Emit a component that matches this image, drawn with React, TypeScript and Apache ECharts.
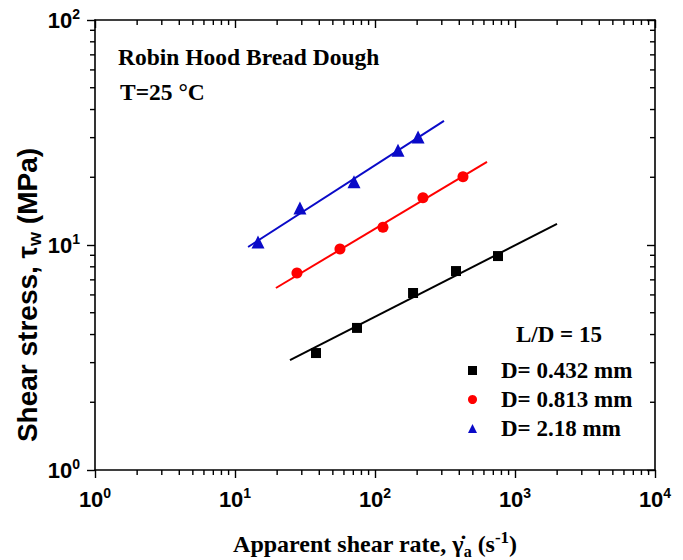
import React, { useEffect, useRef } from 'react';
import * as echarts from 'echarts';

// Measured data (apparent shear rate, s^-1 ; shear stress, MPa)
const blackX = [37.9, 74.4, 187, 379, 756];
const blackY = [3.31, 4.28, 6.12, 7.66, 8.93];
const redX = [27.7, 56.2, 114, 220, 425];
const redY = [7.51, 9.6, 12.0, 16.2, 20.1];
const blueX = [14.6, 29.1, 70.8, 146, 203];
const blueY = [10.3, 14.6, 19.1, 26.4, 30.2];

// Power-law fit lines (end points)
const blackFitX = [24.7, 1995];
const blackFitY = [3.08, 12.4];
const redFitX = [19.6, 631];
const redFitY = [6.44, 23.4];
const blueFitX = [12.4, 311];
const blueFitY = [9.8, 35.6];

const seriesNames = ['D= 0.432 mm', 'D= 0.813 mm', 'D= 2.18 mm'];
const seriesColors = ['#000000', '#ff0000', '#0a0ac8'];
const seriesSymbols = ['rect', 'circle', 'triangle'];

const xMin = 1;
const xMax = 10000;
const yMin = 1;
const yMax = 100;
const minorMultipliers = [2, 3, 4, 5, 6, 7, 8, 9];
const xDecades = [1, 10, 100, 1000];
const yDecades = [1, 10];

const titleLine1 = 'Robin Hood Bread Dough';
const titleLine2 = 'T=25 °C';
const legendHeader = 'L/D = 15';

const zip = (xs: number[], ys: number[]) => xs.map((x, i) => [x, ys[i]]);

const App: React.FC = () => {
  const ref = useRef<HTMLDivElement>(null);

  useEffect(() => {
    if (!ref.current) return;
    document.body.style.margin = '0';
    const chart = echarts.init(ref.current, undefined, { renderer: 'svg' });

    const xMinor: number[][] = [];
    xDecades.forEach((d) => minorMultipliers.forEach((m) => xMinor.push([m * d, yMin])));
    const yMinor: number[][] = [];
    yDecades.forEach((d) => minorMultipliers.forEach((m) => yMinor.push([xMin, m * d])));

    const sans = '"Liberation Sans", Arial, sans-serif';
    const serif = '"Liberation Serif", "Times New Roman", serif';
    const axisColor = '#000';

    const tickRich = {
      b: { fontSize: 22, fontWeight: 'bold', fontFamily: sans, color: '#000', lineHeight: 26 },
      s: { fontSize: 14, fontWeight: 'bold', fontFamily: sans, color: '#000', lineHeight: 14, verticalAlign: 'top' },
    };
    const tickFormatter = (v: number) => `{b|10}{s|${Math.round(Math.log10(v))}}`;

    const baseAxis = {
      type: 'log',
      logBase: 10,
      splitLine: { show: false },
      axisLine: { show: true, onZero: false, lineStyle: { color: axisColor, width: 1.6 } },
    };

    const tickLine = (x1: number, y1: number, x2: number, y2: number) => ({
      type: 'line',
      shape: { x1, y1, x2, y2 },
      style: { stroke: axisColor, lineWidth: 1.4 },
    });

    const scatterSeries = [
      { data: zip(blackX, blackY), size: 10 },
      { data: zip(redX, redY), size: 11 },
      { data: zip(blueX, blueY), size: 13 },
    ].map((s, i) => ({
      name: seriesNames[i],
      type: 'scatter',
      data: s.data,
      symbol: seriesSymbols[i],
      symbolSize: s.size,
      itemStyle: { color: seriesColors[i], opacity: 1 },
      z: 5,
    }));

    const fitSeries = [
      zip(blackFitX, blackFitY),
      zip(redFitX, redFitY),
      zip(blueFitX, blueFitY),
    ].map((d, i) => ({
      name: 'fit' + i,
      type: 'line',
      data: d,
      showSymbol: false,
      symbol: 'none',
      lineStyle: { color: seriesColors[i], width: 2 },
      z: 4,
    }));

    chart.setOption({
      animation: false,
      grid: { left: 95, right: 28, top: 20, bottom: 90, containLabel: false },
      xAxis: [
        {
          ...baseAxis,
          position: 'bottom',
          min: xMin,
          max: xMax,
          axisTick: { show: true, inside: false, length: 8, lineStyle: { color: axisColor, width: 1.4 } },
          axisLabel: { margin: 16, formatter: tickFormatter, rich: tickRich },
        },
        {
          ...baseAxis,
          position: 'top',
          min: xMin,
          max: xMax,
          axisTick: { show: true, inside: true, length: 8, lineStyle: { color: axisColor, width: 1.4 } },
          axisLabel: { show: false },
        },
      ],
      yAxis: [
        {
          ...baseAxis,
          position: 'left',
          min: yMin,
          max: yMax,
          axisTick: { show: true, inside: false, length: 8, lineStyle: { color: axisColor, width: 1.4 } },
          axisLabel: { margin: 15, formatter: tickFormatter, rich: tickRich },
        },
        {
          ...baseAxis,
          position: 'right',
          min: yMin,
          max: yMax,
          axisTick: { show: true, inside: true, length: 8, lineStyle: { color: axisColor, width: 1.4 } },
          axisLabel: { show: false },
        },
      ],
      legend: {
        data: seriesNames,
        orient: 'vertical',
        left: 463,
        top: 354,
        itemWidth: 9,
        itemHeight: 9,
        itemGap: 6,
        textStyle: {
          fontFamily: serif,
          fontWeight: 'bold',
          fontSize: 23,
          color: '#000',
          padding: [0, 0, 0, 19],
        },
      },
      graphic: [
        {
          type: 'text',
          x: 118,
          y: 57,
          style: { text: titleLine1, font: `bold 23.5px ${serif}`, fill: '#000', align: 'left', verticalAlign: 'middle' },
        },
        {
          type: 'text',
          x: 120,
          y: 92,
          style: { text: titleLine2, font: `bold 23.5px ${serif}`, fill: '#000', align: 'left', verticalAlign: 'middle' },
        },
        {
          type: 'text',
          x: 516,
          y: 334,
          style: { text: legendHeader, font: `bold 23px ${serif}`, fill: '#000', align: 'left', verticalAlign: 'middle' },
        },
        {
          type: 'text',
          x: 375,
          y: 544,
          style: {
            text: '{t|Apparent shear rate, \u03B3\u0307}{sub|a}{t| (s}{sup|-1}{t|)}',
            align: 'center',
            verticalAlign: 'middle',
            rich: {
              t: { fontFamily: serif, fontWeight: 'bold', fontSize: 24, lineHeight: 30, fill: '#000' },
              sub: { fontFamily: serif, fontWeight: 'bold', fontSize: 16, lineHeight: 15, verticalAlign: 'bottom', fill: '#000' },
              sup: { fontFamily: serif, fontWeight: 'bold', fontSize: 17, lineHeight: 16, verticalAlign: 'top', fill: '#000' },
            },
          },
        },
        {
          type: 'text',
          x: 27,
          y: 295,
          rotation: Math.PI / 2,
          style: {
            text: '{t|Shear stress, \u03C4}{sub|w}{t| (MPa)}',
            align: 'center',
            verticalAlign: 'middle',
            rich: {
              t: { fontFamily: sans, fontWeight: 'bold', fontSize: 28, lineHeight: 34, fill: '#000' },
              sub: { fontFamily: sans, fontWeight: 'bold', fontSize: 18, lineHeight: 17, verticalAlign: 'bottom', fill: '#000' },
            },
          },
        },
      ],
      series: [
        ...fitSeries,
        ...scatterSeries,
        {
          name: 'xMinorTicks',
          type: 'custom',
          clip: false,
          silent: true,
          data: xMinor,
          renderItem: (_p: any, api: any) => {
            const v = api.value(0);
            const pb = api.coord([v, yMin]);
            const pt = api.coord([v, yMax]);
            return {
              type: 'group',
              children: [tickLine(pb[0], pb[1], pb[0], pb[1] + 5), tickLine(pt[0], pt[1], pt[0], pt[1] + 5)],
            };
          },
        },
        {
          name: 'yMinorTicks',
          type: 'custom',
          clip: false,
          silent: true,
          data: yMinor,
          renderItem: (_p: any, api: any) => {
            const v = api.value(1);
            const pl = api.coord([xMin, v]);
            const pr = api.coord([xMax, v]);
            return {
              type: 'group',
              children: [tickLine(pl[0], pl[1], pl[0] - 5, pl[1]), tickLine(pr[0], pr[1], pr[0] - 5, pr[1])],
            };
          },
        },
      ],
    });

    return () => chart.dispose();
  }, []);

  return <div ref={ref} style={{ position: 'absolute', left: 0, top: 0, width: 683, height: 560 }} />;
};

export default App;
